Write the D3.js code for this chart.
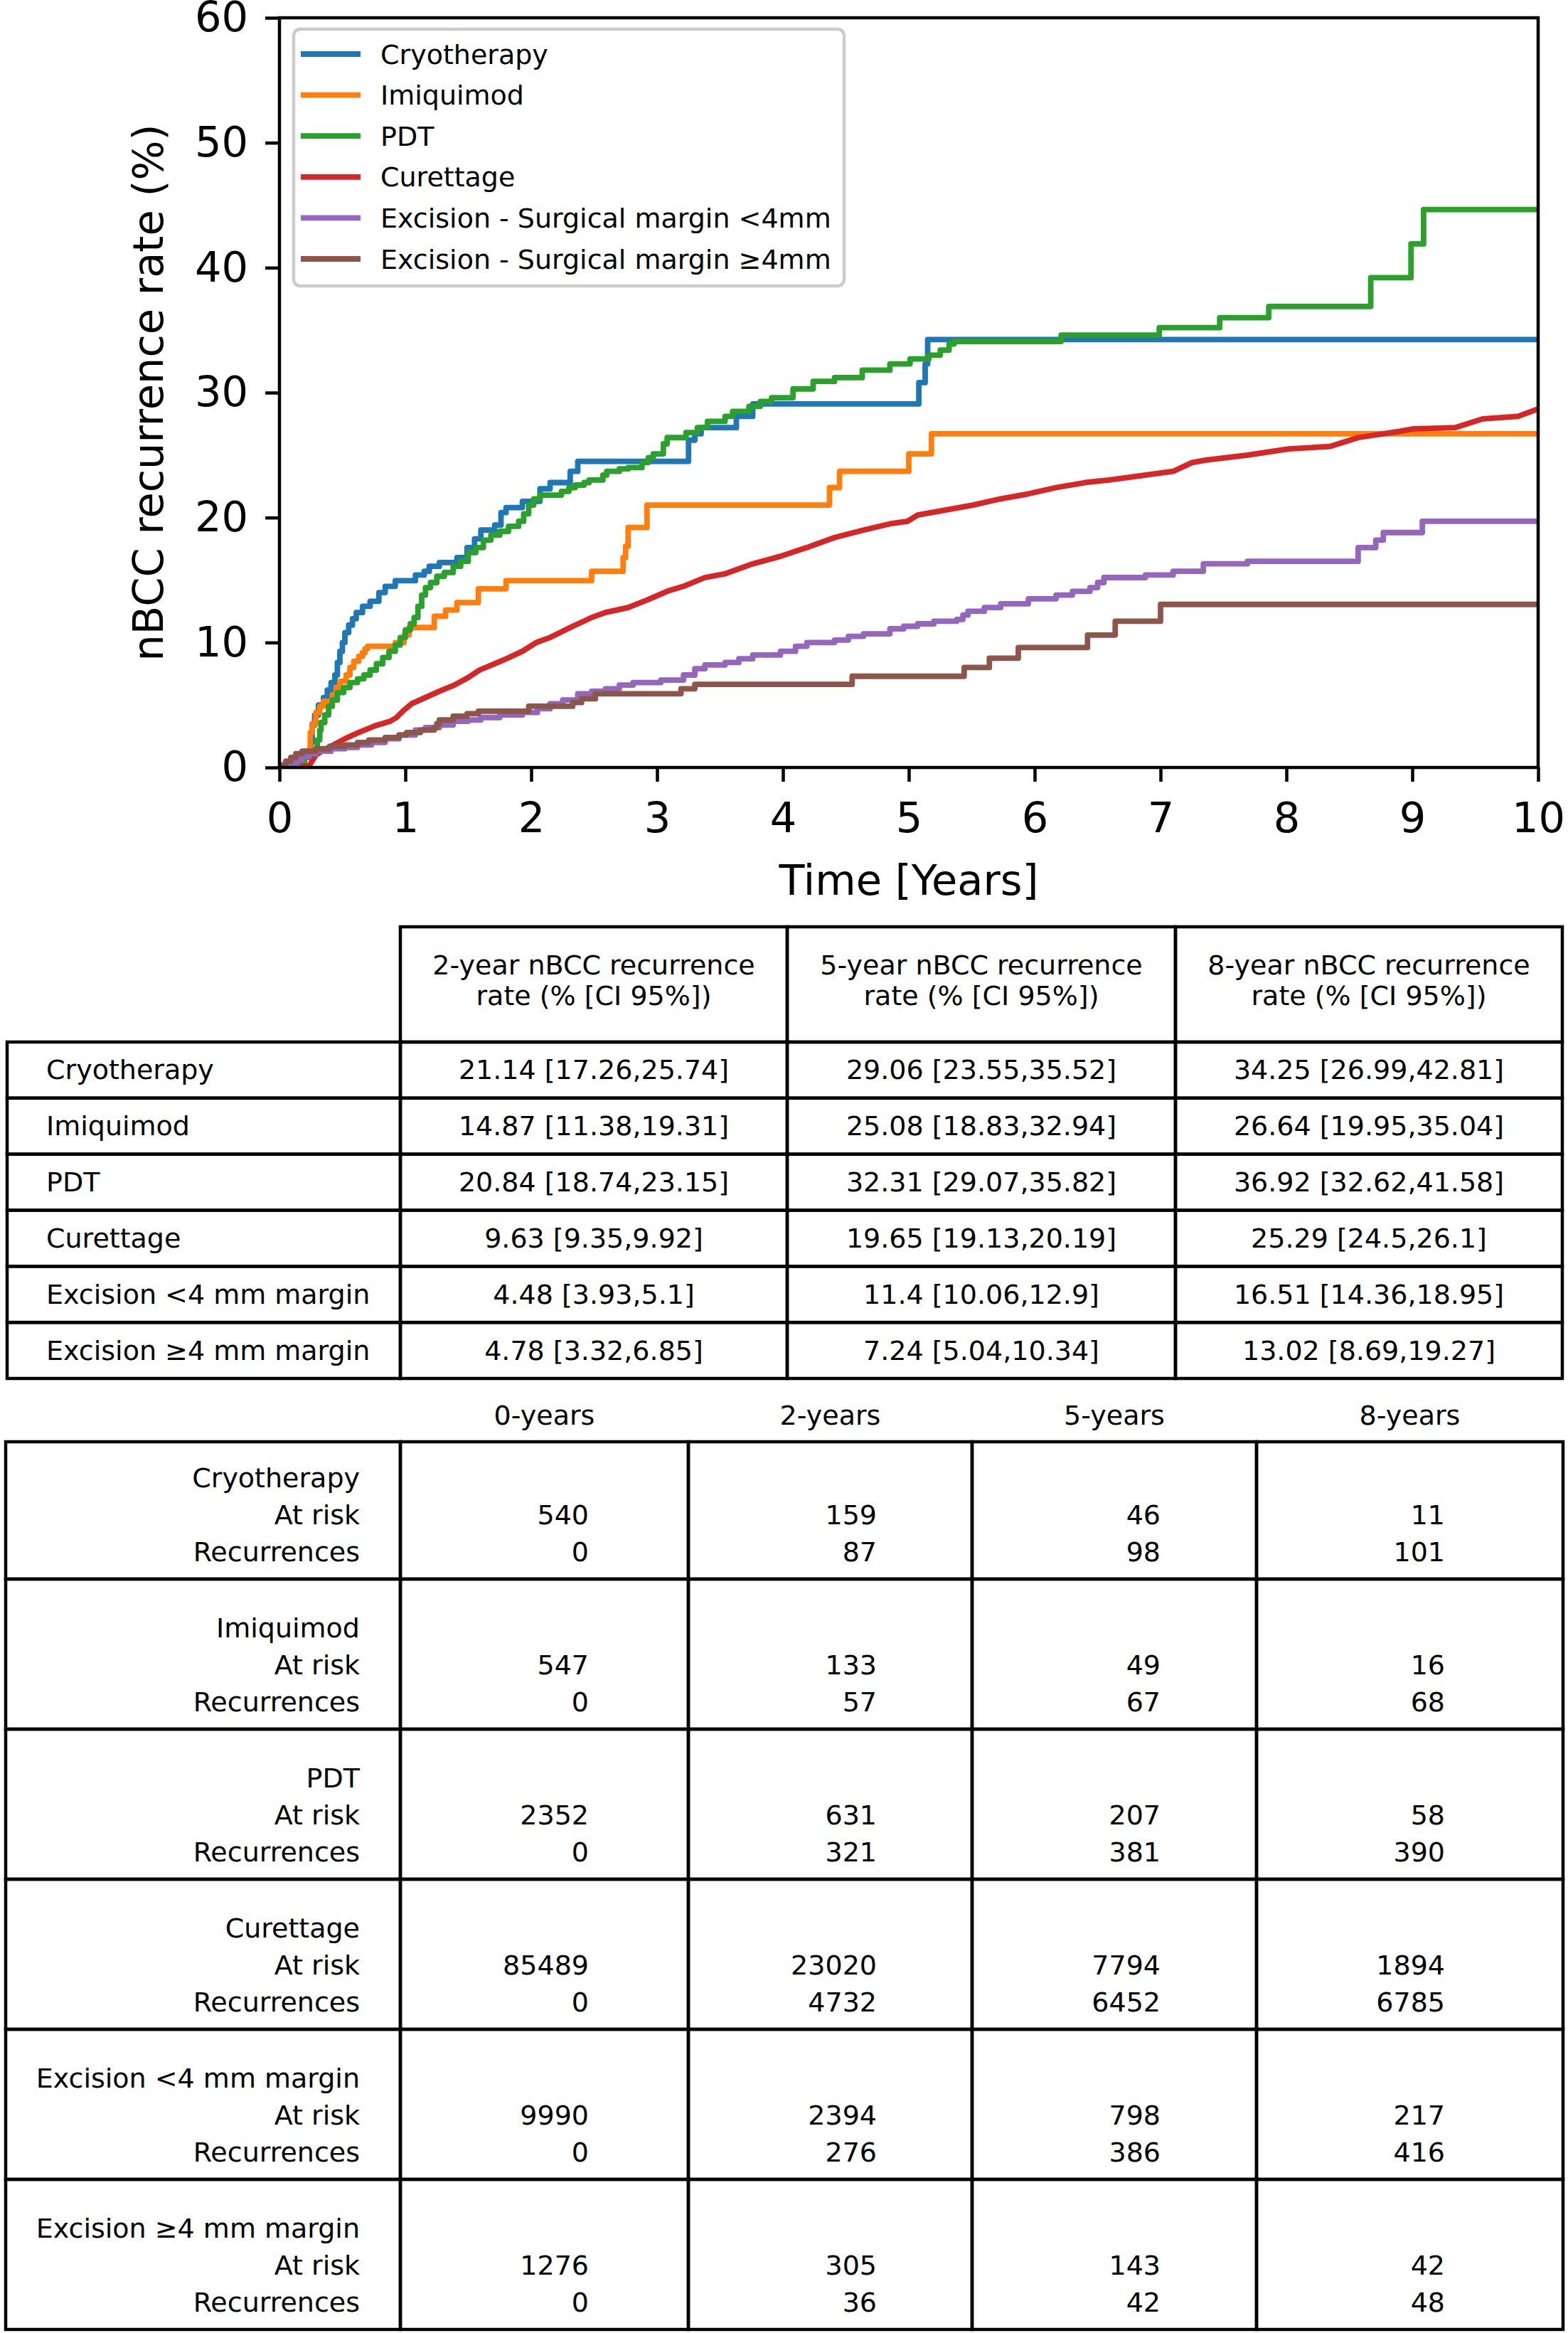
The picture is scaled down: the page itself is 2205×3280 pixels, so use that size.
<!DOCTYPE html>
<html>
<head>
<meta charset="utf-8">
<script src="https://cdn.jsdelivr.net/npm/d3@7"></script>
<style>
  body { margin: 0; background: #fff; }
  text { font-family: "DejaVu Sans", sans-serif; fill: #000; }
</style>
</head>
<body>
<div class="vis"></div>
<script>
const width = 2205;
const height = 3280;

// Kaplan-Meier style curves: [years, recurrence %]
const cryotherapy = [[0,0],[0.05,0.3],[0.12,0.7],[0.2,1.1],[0.25,2.0],[0.26,3.4],[0.28,4.2],[0.31,5.0],[0.35,5.6],[0.38,6.2],[0.41,6.8],[0.44,7.4],[0.46,8.4],[0.48,9.3],[0.50,10.0],[0.52,10.8],[0.55,11.4],[0.58,11.9],[0.61,12.4],[0.66,12.9],[0.72,13.3],[0.79,14.0],[0.84,14.5],[0.92,14.95],[1.08,15.4],[1.15,15.7],[1.19,16.1],[1.27,16.4],[1.41,16.8],[1.49,17.6],[1.55,18.3],[1.60,19.0],[1.71,19.4],[1.76,20.4],[1.80,20.8],[1.93,21.3],[2.07,22.3],[2.15,22.8],[2.31,23.7],[2.37,24.5],[3.25,26.2],[3.30,26.7],[3.35,27.2],[3.63,28.1],[3.76,29.1],[5.08,30.8],[5.13,32.3],[5.15,34.25],[10,34.25]];
const imiquimod = [[0,0],[0.06,0.4],[0.14,0.9],[0.2,1.3],[0.24,1.6],[0.245,2.8],[0.26,3.5],[0.29,4.4],[0.32,4.9],[0.35,5.3],[0.42,5.8],[0.45,6.4],[0.48,6.9],[0.53,7.4],[0.56,8.0],[0.59,8.5],[0.63,8.9],[0.66,9.2],[0.68,9.5],[0.70,9.7],[0.92,10.0],[0.99,10.6],[1.03,11.2],[1.23,12.1],[1.32,12.6],[1.41,13.2],[1.58,14.3],[1.80,14.95],[2.48,15.7],[2.73,16.8],[2.75,17.7],[2.77,19.2],[2.92,21.0],[4.37,22.4],[4.45,23.7],[5.0,25.1],[5.18,26.7],[10,26.7]];
const pdt = [[0,0],[0.1,0.3],[0.2,0.8],[0.26,1.2],[0.28,1.3],[0.30,2.2],[0.32,3.0],[0.33,3.6],[0.36,4.2],[0.39,4.9],[0.42,5.4],[0.46,6.0],[0.51,6.4],[0.56,6.8],[0.62,7.1],[0.67,7.4],[0.72,7.8],[0.77,8.3],[0.82,8.8],[0.87,9.3],[0.92,9.8],[0.96,10.4],[1.00,11.0],[1.04,11.5],[1.07,12.0],[1.10,12.9],[1.13,13.8],[1.16,14.4],[1.20,14.8],[1.25,15.3],[1.31,15.6],[1.38,16.1],[1.44,16.5],[1.50,17.2],[1.56,17.6],[1.62,18.2],[1.68,18.6],[1.75,18.9],[1.82,19.3],[1.90,19.7],[1.94,20.3],[1.98,21.0],[2.02,21.5],[2.07,21.8],[2.24,22.1],[2.30,22.4],[2.35,22.6],[2.42,22.8],[2.46,23.0],[2.57,23.4],[2.60,23.7],[2.70,23.9],[2.77,24.0],[2.88,24.4],[2.93,24.8],[2.97,25.1],[3.05,25.9],[3.08,26.4],[3.23,26.8],[3.32,27.2],[3.40,27.7],[3.54,28.1],[3.60,28.5],[3.73,28.9],[3.82,29.3],[3.91,29.6],[4.08,30.3],[4.24,30.9],[4.41,31.2],[4.63,31.8],[4.85,32.3],[5.01,32.7],[5.16,33.0],[5.25,33.4],[5.32,33.9],[5.36,34.1],[6.21,34.6],[6.99,35.2],[7.47,36.0],[7.86,36.9],[8.67,39.2],[8.99,41.9],[9.09,44.65],[10,44.65]];
const curettage = [[0,0],[0.15,0],[0.24,0.2],[0.29,1.0],[0.35,1.4],[0.41,1.7],[0.52,2.3],[0.63,2.8],[0.75,3.3],[0.88,3.7],[0.93,4.0],[0.99,4.6],[1.05,5.1],[1.16,5.6],[1.27,6.1],[1.39,6.6],[1.50,7.2],[1.59,7.8],[1.71,8.3],[1.78,8.6],[1.93,9.3],[2.04,10.0],[2.15,10.4],[2.33,11.3],[2.48,12.0],[2.59,12.4],[2.77,12.8],[2.92,13.4],[3.08,14.1],[3.21,14.5],[3.38,15.2],[3.54,15.5],[3.76,16.3],[3.98,16.9],[4.19,17.6],[4.41,18.4],[4.64,19.0],[4.85,19.5],[4.99,19.7],[5.07,20.2],[5.29,20.6],[5.51,21.0],[5.73,21.5],[5.95,21.9],[6.17,22.4],[6.40,22.8],[6.59,23.0],[6.81,23.3],[7.10,23.7],[7.25,24.4],[7.36,24.6],[7.69,25.0],[8.02,25.5],[8.35,25.7],[8.57,26.4],[8.90,26.9],[9.01,27.1],[9.34,27.2],[9.56,27.9],[9.84,28.1],[10,28.7]];
const excisionUnder4 = [[0,0],[0.05,0.1],[0.09,0.3],[0.14,0.6],[0.18,0.9],[0.24,1.1],[0.29,1.3],[0.41,1.5],[0.52,1.6],[0.62,1.8],[0.73,2.0],[0.84,2.3],[0.95,2.6],[1.08,3.0],[1.16,3.2],[1.27,3.4],[1.38,3.7],[1.50,3.8],[1.60,4.0],[1.75,4.2],[1.93,4.4],[2.05,4.7],[2.15,5.1],[2.25,5.4],[2.37,5.9],[2.48,6.1],[2.59,6.3],[2.70,6.6],[2.81,6.8],[3.03,7.0],[3.21,7.4],[3.30,7.9],[3.38,8.2],[3.54,8.4],[3.65,8.7],[3.76,9.0],[3.98,9.3],[4.10,9.7],[4.19,10.0],[4.41,10.2],[4.52,10.5],[4.64,10.7],[4.85,11.1],[4.96,11.3],[5.07,11.5],[5.20,11.7],[5.38,11.85],[5.43,12.2],[5.47,12.5],[5.60,12.8],[5.73,13.1],[5.95,13.5],[6.17,13.8],[6.30,14.1],[6.44,14.4],[6.50,14.8],[6.55,15.2],[6.88,15.4],[7.10,15.7],[7.34,16.3],[7.69,16.5],[8.57,17.6],[8.71,18.2],[8.77,18.8],[9.08,19.7],[10,19.7]];
const excisionOver4 = [[0,0],[0.02,0.2],[0.05,0.5],[0.09,0.8],[0.13,1.1],[0.18,1.3],[0.29,1.5],[0.40,1.7],[0.52,1.8],[0.62,2.0],[0.71,2.2],[0.84,2.4],[0.95,2.6],[1.01,2.8],[1.12,3.0],[1.23,3.2],[1.25,3.5],[1.27,3.8],[1.38,4.1],[1.49,4.3],[1.58,4.5],[1.98,4.9],[2.33,5.2],[2.40,5.5],[2.51,5.9],[3.19,6.3],[3.30,6.65],[4.55,7.3],[5.44,8.0],[5.64,8.75],[5.87,9.6],[6.42,10.6],[6.64,11.7],[7.0,13.05],[10,13.05]];

const legendLabels = ["Cryotherapy", "Imiquimod", "PDT", "Curettage", "Excision - Surgical margin <4mm", "Excision - Surgical margin \u22654mm"];
const colors = ["#1f77b4", "#ff7f0e", "#2ca02c", "#d62728", "#9467bd", "#8c564b"];
const xTicks = [0, 1, 2, 3, 4, 5, 6, 7, 8, 9, 10];
const yTicks = [0, 10, 20, 30, 40, 50, 60];

// Table 1: recurrence rates
const rowNames = ["Cryotherapy", "Imiquimod", "PDT", "Curettage", "Excision <4 mm margin", "Excision \u22654 mm margin"];
const rateHeaders = [["2-year nBCC recurrence", "rate (% [CI 95%])"], ["5-year nBCC recurrence", "rate (% [CI 95%])"], ["8-year nBCC recurrence", "rate (% [CI 95%])"]];
const rate2y = ["21.14 [17.26,25.74]", "14.87 [11.38,19.31]", "20.84 [18.74,23.15]", "9.63 [9.35,9.92]", "4.48 [3.93,5.1]", "4.78 [3.32,6.85]"];
const rate5y = ["29.06 [23.55,35.52]", "25.08 [18.83,32.94]", "32.31 [29.07,35.82]", "19.65 [19.13,20.19]", "11.4 [10.06,12.9]", "7.24 [5.04,10.34]"];
const rate8y = ["34.25 [26.99,42.81]", "26.64 [19.95,35.04]", "36.92 [32.62,41.58]", "25.29 [24.5,26.1]", "16.51 [14.36,18.95]", "13.02 [8.69,19.27]"];

// Table 2: numbers at risk
const yearHeaders = ["0-years", "2-years", "5-years", "8-years"];
const atRisk = [[540, 159, 46, 11], [547, 133, 49, 16], [2352, 631, 207, 58], [85489, 23020, 7794, 1894], [9990, 2394, 798, 217], [1276, 305, 143, 42]];
const recurrences = [[0, 87, 98, 101], [0, 57, 67, 68], [0, 321, 381, 390], [0, 4732, 6452, 6785], [0, 276, 386, 416], [0, 36, 42, 48]];

const series = [cryotherapy, imiquimod, pdt, curettage, excisionUnder4, excisionOver4];

const svg = d3.select(".vis").append("svg")
    .attr("width", width)
    .attr("height", height);

svg.append("rect").attr("width", width).attr("height", height).attr("fill", "#fff");

// ---------- Plot ----------
const plot = {left: 393, right: 2163, top: 25, bottom: 1079};
const fontSize = 59;

const xScale = d3.scaleLinear().domain([0, 10]).range([plot.left, plot.right]);
const yScale = d3.scaleLinear().domain([0, 60]).range([plot.bottom, plot.top]);

const xAxis = d3.axisBottom(xScale).tickValues(xTicks).tickFormat(d3.format("d")).tickSize(20).tickPadding(29);
const yAxis = d3.axisLeft(yScale).tickValues(yTicks).tickSize(20).tickPadding(24);

const gx = svg.append("g")
    .attr("transform", `translate(0, ${plot.bottom})`)
    .call(xAxis);
const gy = svg.append("g")
    .attr("transform", `translate(${plot.left}, 0)`)
    .call(yAxis);

[gx, gy].forEach(g => {
    g.attr("font-size", fontSize).attr("font-family", "DejaVu Sans");
    g.select(".domain").remove();
    g.selectAll(".tick line").attr("stroke", "#000").attr("stroke-width", 4.5);
    g.selectAll(".tick text").attr("fill", "#000");
});

svg.append("text")
    .attr("x", (plot.left + plot.right) / 2)
    .attr("y", 1258)
    .attr("text-anchor", "middle")
    .attr("font-size", fontSize)
    .text("Time [Years]");

svg.append("text")
    .attr("transform", `translate(229, ${(plot.top + plot.bottom) / 2}) rotate(-90)`)
    .attr("text-anchor", "middle")
    .attr("font-size", fontSize)
    .text("nBCC recurrence rate (%)");

svg.append("clipPath").attr("id", "clip")
    .append("rect")
    .attr("x", plot.left).attr("y", plot.top)
    .attr("width", plot.right - plot.left).attr("height", plot.bottom - plot.top);

// Line generators
const stepLine = d3.line()
    .x(d => xScale(d[0]))
    .y(d => yScale(d[1]))
    .curve(d3.curveStepAfter);
const smoothLine = d3.line()
    .x(d => xScale(d[0]))
    .y(d => yScale(d[1]));

svg.append("g").attr("clip-path", "url(#clip)")
    .selectAll("path")
    .data(series)
    .enter()
    .append("path")
    .attr("d", (d, i) => i === 3 ? smoothLine(d) : stepLine(d))
    .attr("fill", "none")
    .attr("stroke", (d, i) => colors[i])
    .attr("stroke-width", 7.8)
    .attr("stroke-linejoin", "round");

// Spines
svg.append("rect")
    .attr("x", plot.left).attr("y", plot.top)
    .attr("width", plot.right - plot.left).attr("height", plot.bottom - plot.top)
    .attr("fill", "none")
    .attr("stroke", "#000")
    .attr("stroke-width", 4.5);

// Legend
const legend = svg.append("g");
legend.append("rect")
    .attr("x", 413).attr("y", 41)
    .attr("width", 774).attr("height", 361)
    .attr("rx", 9)
    .attr("fill", "#fff").attr("fill-opacity", 0.8)
    .attr("stroke", "#cccccc").attr("stroke-width", 4.5);

const legendItems = legend.selectAll("g.item")
    .data(legendLabels)
    .enter()
    .append("g")
    .attr("class", "item")
    .attr("transform", (d, i) => `translate(0, ${76 + i * 57.6})`);

legendItems.append("line")
    .attr("x1", 423).attr("x2", 507)
    .attr("stroke", (d, i) => colors[i])
    .attr("stroke-width", 7.8);

legendItems.append("text")
    .attr("x", 535)
    .attr("dy", "0.36em")
    .attr("font-size", 38)
    .text(d => d);

// ---------- Table 1 ----------
const tableFont = 38;
const t1Cols = [10, 563, 1107, 1653, 2197];
const t1Top = 1303;
const t1Rows = d3.scaleBand().domain(rowNames).range([1465, 1938]);
const rates = [rate2y, rate5y, rate8y];

const t1 = svg.append("g")
    .attr("font-size", tableFont);

// header cells
rateHeaders.forEach((h, j) => {
    t1.append("rect")
        .attr("x", t1Cols[j + 1]).attr("y", t1Top)
        .attr("width", t1Cols[j + 2] - t1Cols[j + 1]).attr("height", t1Rows.range()[0] - t1Top)
        .attr("fill", "none").attr("stroke", "#000").attr("stroke-width", 4.5);
    h.forEach((line, k) => {
        t1.append("text")
            .attr("x", (t1Cols[j + 1] + t1Cols[j + 2]) / 2)
            .attr("y", 1370 + k * 43)
            .attr("text-anchor", "middle")
            .text(line);
    });
});

// body cells
rowNames.forEach((name, i) => {
    const top = t1Rows(name);
    const bh = t1Rows.bandwidth();
    for (let j = 0; j < 4; j++) {
        t1.append("rect")
            .attr("x", t1Cols[j]).attr("y", top)
            .attr("width", t1Cols[j + 1] - t1Cols[j]).attr("height", bh)
            .attr("fill", "none").attr("stroke", "#000").attr("stroke-width", 4.5);
    }
    t1.append("text")
        .attr("x", t1Cols[0] + 55)
        .attr("y", top + bh / 2 + 13)
        .text(name);
    rates.forEach((r, j) => {
        t1.append("text")
            .attr("x", (t1Cols[j + 1] + t1Cols[j + 2]) / 2)
            .attr("y", top + bh / 2 + 13)
            .attr("text-anchor", "middle")
            .text(r[i]);
    });
});

// ---------- Table 2 ----------
const t2Cols = [8, 563, 968, 1367, 1767, 2198];
const t2Top = 2027;
const t2Rows = d3.scaleBand().domain(rowNames).range([2009, 3275]);

const t2 = svg.append("g")
    .attr("font-size", tableFont);

yearHeaders.forEach((h, j) => {
    t2.append("text")
        .attr("x", (t2Cols[j + 1] + t2Cols[j + 2]) / 2)
        .attr("y", 2003)
        .attr("text-anchor", "middle")
        .text(h);
});

rowNames.forEach((name, i) => {
    const top = Math.max(t2Rows(name), t2Top);
    const bottom = t2Rows(name) + t2Rows.bandwidth();
    for (let j = 0; j < 5; j++) {
        t2.append("rect")
            .attr("x", t2Cols[j]).attr("y", top)
            .attr("width", t2Cols[j + 1] - t2Cols[j]).attr("height", bottom - top)
            .attr("fill", "none").attr("stroke", "#000").attr("stroke-width", 4.5);
    }
    const lines = [name, "At risk", "Recurrences"];
    lines.forEach((l, k) => {
        t2.append("text")
            .attr("x", t2Cols[1] - 57)
            .attr("y", bottom - 129 + k * 52)
            .attr("text-anchor", "end")
            .text(l);
    });
    for (let j = 0; j < 4; j++) {
        t2.append("text")
            .attr("x", t2Cols[j + 1] + 265)
            .attr("y", bottom - 77)
            .attr("text-anchor", "end")
            .text(atRisk[i][j]);
        t2.append("text")
            .attr("x", t2Cols[j + 1] + 265)
            .attr("y", bottom - 25)
            .attr("text-anchor", "end")
            .text(recurrences[i][j]);
    }
});
</script>
</body>
</html>
